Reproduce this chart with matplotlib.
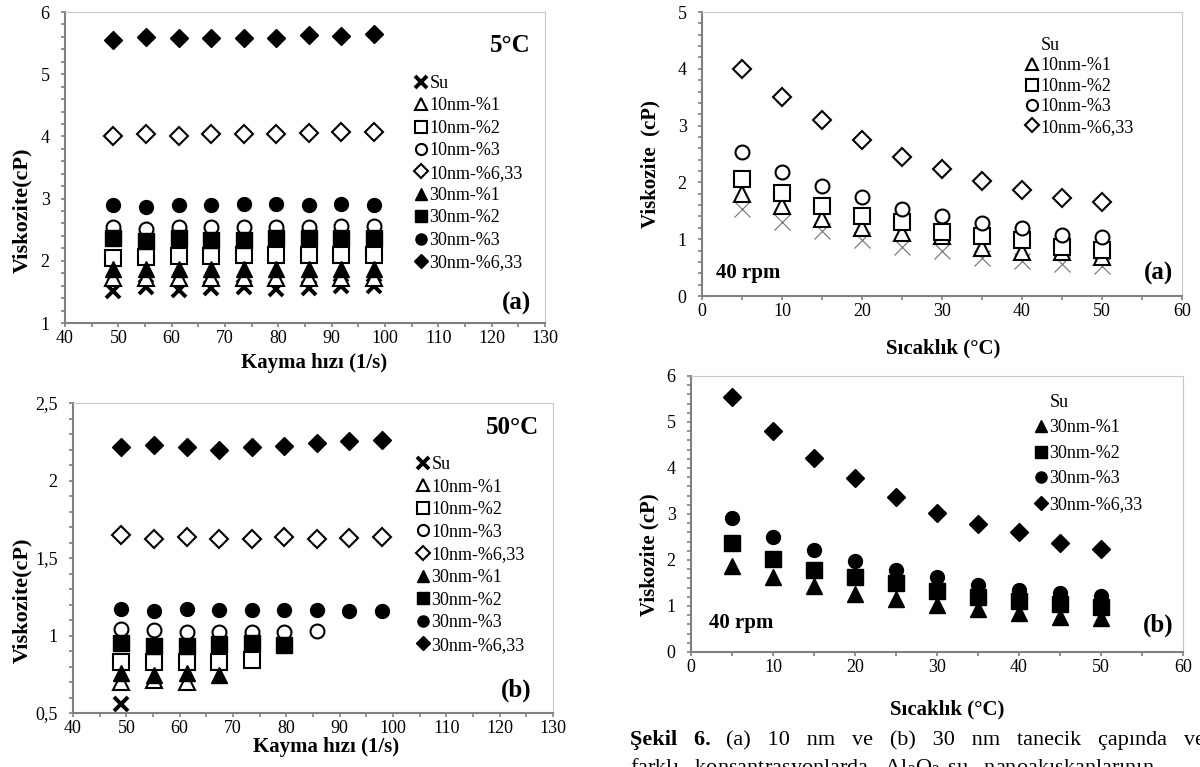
import matplotlib.pyplot as plt
import numpy as np
from matplotlib.lines import Line2D
from matplotlib.ticker import MultipleLocator

plt.rcParams['font.family'] = ['Liberation Serif', 'DejaVu Serif']
plt.rcParams['mathtext.fontset'] = 'custom'
plt.rcParams['mathtext.rm'] = 'Liberation Serif'

W, H = 1200, 767

# seri isimleri
labels = ["Su", "10nm-%1", "10nm-%2", "10nm-%3", "10nm-%6,33",
          "30nm-%1", "30nm-%2", "30nm-%3", "30nm-%6,33"]

# kayma hizi (1/s)
shear = [49, 55.2, 61.3, 67.4, 73.5, 79.6, 85.7, 91.8, 97.9]

# 5 C verisi
v5_su = [1.52, 1.58, 1.53, 1.56, 1.58, 1.55, 1.56, 1.60, 1.60]
v5_10_1 = [1.72, 1.72, 1.72, 1.72, 1.72, 1.72, 1.72, 1.72, 1.73]
v5_10_2 = [2.05, 2.06, 2.08, 2.08, 2.09, 2.09, 2.09, 2.10, 2.10]
v5_10_3 = [2.54, 2.51, 2.54, 2.54, 2.54, 2.55, 2.55, 2.56, 2.56]
v5_10_6 = [4.00, 4.04, 4.01, 4.04, 4.04, 4.04, 4.06, 4.07, 4.07]
v5_30_1 = [1.87, 1.87, 1.87, 1.87, 1.87, 1.87, 1.87, 1.87, 1.87]
v5_30_2 = [2.36, 2.32, 2.36, 2.34, 2.34, 2.36, 2.36, 2.36, 2.36]
v5_30_3 = [2.90, 2.86, 2.89, 2.90, 2.91, 2.92, 2.90, 2.91, 2.90]
v5_30_6 = [5.55, 5.60, 5.58, 5.59, 5.58, 5.58, 5.63, 5.62, 5.65]

# 50 C verisi (bazi seriler kisa)
v50_su = [0.56]
v50_10_1 = [0.70, 0.71, 0.70]
v50_10_2 = [0.83, 0.83, 0.83, 0.83, 0.84]
v50_10_3 = [1.04, 1.035, 1.024, 1.024, 1.02, 1.02, 1.03]
v50_10_6 = [1.65, 1.62, 1.634, 1.623, 1.623, 1.638, 1.623, 1.627, 1.638]
v50_30_1 = [0.757, 0.746, 0.757, 0.746]
v50_30_2 = [0.95, 0.935, 0.93, 0.945, 0.95, 0.94]
v50_30_3 = [1.174, 1.157, 1.17, 1.163, 1.163, 1.163, 1.163, 1.157, 1.157]
v50_30_6 = [2.215, 2.226, 2.215, 2.198, 2.215, 2.22, 2.24, 2.254, 2.26]

# sicaklik (C), 40 rpm
temp = [5, 10, 15, 20, 25, 30, 35, 40, 45, 50]
t_su = [1.54, 1.30, 1.14, 0.99, 0.86, 0.79, 0.67, 0.61, 0.57, 0.52]
t_10_1 = [1.79, 1.58, 1.36, 1.19, 1.11, 1.05, 0.84, 0.78, 0.78, 0.69]
t_10_2 = [2.06, 1.81, 1.58, 1.41, 1.30, 1.13, 1.05, 0.98, 0.86, 0.81]
t_10_3 = [2.54, 2.18, 1.94, 1.75, 1.53, 1.40, 1.28, 1.19, 1.08, 1.04]
t_10_6 = [4.00, 3.50, 3.10, 2.74, 2.44, 2.23, 2.02, 1.86, 1.72, 1.65]
t_30_1 = [1.87, 1.62, 1.44, 1.27, 1.15, 1.03, 0.93, 0.84, 0.76, 0.73]
t_30_2 = [2.36, 2.03, 1.79, 1.62, 1.50, 1.33, 1.19, 1.11, 1.05, 0.97]
t_30_3 = [2.91, 2.51, 2.21, 1.97, 1.79, 1.62, 1.45, 1.35, 1.29, 1.21]
t_30_6 = [5.55, 4.81, 4.22, 3.78, 3.38, 3.03, 2.79, 2.60, 2.36, 2.23]

# isaret stilleri
styles = [
    dict(marker='x', color='black', mew=2.8, ms=10),
    dict(marker='^', mfc='white', mec='black', mew=1.5, ms=11),
    dict(marker='s', mfc='white', mec='black', mew=1.5, ms=11),
    dict(marker='o', mfc='white', mec='black', mew=1.5, ms=10),
    dict(marker='D', mfc='white', mec='black', mew=1.5, ms=9),
    dict(marker='^', mfc='black', mec='black', mew=1.0, ms=11),
    dict(marker='s', mfc='black', mec='black', mew=1.0, ms=11),
    dict(marker='o', mfc='black', mec='black', mew=1.0, ms=10),
    dict(marker='D', mfc='black', mec='black', mew=1.0, ms=9),
]
su_thin = dict(marker='x', color='#707070', mew=0.8, ms=12)

fig = plt.figure(figsize=(12, 7.67), dpi=100)


def px(x, y):
    # piksel -> figur koordinati
    return x / W, 1 - y / H


def box(x0, x1, y0, y1):
    return [x0 / W, 1 - y1 / H, (x1 - x0) / W, (y1 - y0) / H]


def style_axes(ax, xmin, xmax, ymin, ymax, ymajor):
    ax.set_xlim(xmin, xmax)
    ax.set_ylim(ymin, ymax)
    ax.xaxis.set_major_locator(MultipleLocator(10))
    ax.xaxis.set_minor_locator(MultipleLocator(5))
    ax.yaxis.set_major_locator(MultipleLocator(ymajor))
    ax.yaxis.set_minor_locator(MultipleLocator(ymajor / 5))
    for s in ax.spines.values():
        s.set_color('#c8c8c8')
    for s in ['left', 'bottom']:
        ax.spines[s].set_color('#808080')
        ax.spines[s].set_linewidth(1.5)
    ax.tick_params(which='both', direction='out', color='#808080', width=1.2, length=3)
    ax.tick_params(which='major', labelsize=13)
    ax.tick_params(axis='x', pad=2)
    ax.tick_params(axis='y', pad=8)


def comma(v, pos):
    return ('%g' % v).replace('.', ',')


def legend(ax, handles, labs, x, y, spacing):
    ax.legend(handles, labs, loc='upper left', bbox_to_anchor=px(x, y),
              bbox_transform=fig.transFigure, frameon=False, fontsize=13,
              markerscale=0.8, handlelength=0.6, handletextpad=0.15,
              labelspacing=spacing, borderpad=0, borderaxespad=0)


def blank():
    return Line2D([], [], ls='none', marker='None')


# Grafik 1 - 5 C
ax1 = fig.add_axes(box(65, 545, 12, 323))
series5 = [v5_su, v5_10_1, v5_10_2, v5_10_3, v5_10_6, v5_30_1, v5_30_2, v5_30_3, v5_30_6]
h1 = []
for lab, vals, st in zip(labels, series5, styles):
    h1 += ax1.plot(shear[:len(vals)], vals, ls='none', **st)
style_axes(ax1, 40, 130, 1, 6, 1)
legend(ax1, h1, labels, 416, 75, 0.30)
fig.text(*px(531, 45), "5°C", ha='right', va='center', fontsize=18, fontweight='bold')
fig.text(*px(531, 303), "(a)", ha='right', va='center', fontsize=18, fontweight='bold')
fig.text(*px(314, 363), "Kayma hızı (1/s)", ha='center', va='center',
         fontsize=15, fontweight='bold')
fig.text(*px(22, 210), "Viskozite(cP)", ha='center', va='center',
         rotation=90, fontsize=16, fontweight='bold')

# Grafik 2 - 50 C
ax2 = fig.add_axes(box(73, 553, 403, 713))
series50 = [v50_su, v50_10_1, v50_10_2, v50_10_3, v50_10_6, v50_30_1, v50_30_2, v50_30_3, v50_30_6]
h2 = []
for lab, vals, st in zip(labels, series50, styles):
    h2 += ax2.plot(shear[:len(vals)], vals, ls='none', **st)
style_axes(ax2, 40, 130, 0.5, 2.5, 0.5)
ax2.yaxis.set_major_formatter(comma)
legend(ax2, h2, labels, 418, 456, 0.31)
fig.text(*px(539, 428), "50°C", ha='right', va='center', fontsize=18, fontweight='bold')
fig.text(*px(532, 690), "(b)", ha='right', va='center', fontsize=18, fontweight='bold')
fig.text(*px(326, 747), "Kayma hızı (1/s)", ha='center', va='center',
         fontsize=15, fontweight='bold')
fig.text(*px(22, 600), "Viskozite(cP)", ha='center', va='center',
         rotation=90, fontsize=16, fontweight='bold')

# Grafik 3 - 10 nm, sicaklik
ax3 = fig.add_axes(box(702, 1182, 12, 296))
series10 = [t_su, t_10_1, t_10_2, t_10_3, t_10_6]
h3 = [blank()]
for i, vals in enumerate(series10):
    st = su_thin if i == 0 else styles[i]
    line = ax3.plot(temp, vals, ls='none', **st)
    if i > 0:
        h3 += line
style_axes(ax3, 0, 60, 0, 5, 1)
legend(ax3, h3, labels[:5], 1027, 37, 0.19)
fig.text(*px(716, 273), "40 rpm", ha='left', va='center', fontsize=15, fontweight='bold')
fig.text(*px(1173, 273), "(a)", ha='right', va='center', fontsize=18, fontweight='bold')
fig.text(*px(943, 348), "Sıcaklık (°C)", ha='center', va='center',
         fontsize=15, fontweight='bold')
fig.text(*px(650, 164), "Viskozite  (cP)", ha='center', va='center',
         rotation=90, fontsize=15, fontweight='bold')

# Grafik 4 - 30 nm, sicaklik
ax4 = fig.add_axes(box(691, 1183, 376, 652))
series30 = [t_30_1, t_30_2, t_30_3, t_30_6]
h4 = [blank()]
for i, vals in enumerate(series30):
    h4 += ax4.plot(temp, vals, ls='none', **styles[i + 5])
style_axes(ax4, 0, 60, 0, 6, 1)
legend(ax4, h4, [labels[0]] + labels[5:], 1036, 394, 0.47)
fig.text(*px(709, 623), "40 rpm", ha='left', va='center', fontsize=15, fontweight='bold')
fig.text(*px(1174, 625), "(b)", ha='right', va='center', fontsize=18, fontweight='bold')
fig.text(*px(947, 709), "Sıcaklık (°C)", ha='center', va='center',
         fontsize=15, fontweight='bold')
fig.text(*px(649, 555), "Viskozite (cP)", ha='center', va='center',
         rotation=90, fontsize=15, fontweight='bold')

# Alt yazi
fig.text(*px(630, 740), "Şekil   6.", ha='left', va='center', fontsize=16, fontweight='bold')
fig.text(*px(726, 740), "(a)   10   nm   ve   (b)   30   nm   tanecik   çapında   ve",
         ha='left', va='center', fontsize=16)
fig.text(*px(630, 768), "farklı   konsantrasyonlarda   Al$_2$O$_3$-su   nanoakışkanlarının",
         ha='left', va='center', fontsize=16)

plt.savefig("out.png", dpi=100)
